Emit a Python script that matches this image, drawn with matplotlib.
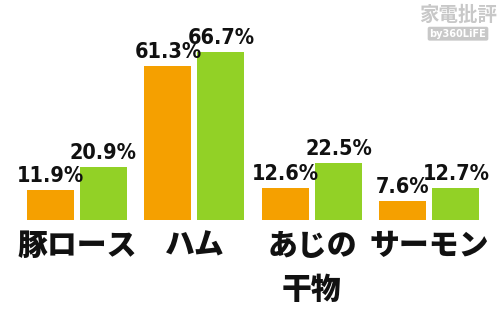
import matplotlib
matplotlib.use("Agg")
import matplotlib.pyplot as plt
import numpy as np

categories = ["豚ロース", "ハム", "あじの\n干物", "サーモン"]
series_a = [11.9, 61.3, 12.6, 7.6]   # orange
series_b = [20.9, 66.7, 22.5, 12.7]  # green
labels_a = ["11.9%", "61.3%", "12.6%", "7.6%"]
labels_b = ["20.9%", "66.7%", "22.5%", "12.7%"]

ORANGE = "#f5a000"
GREEN = "#92d126"

fig = plt.figure(figsize=(5.0, 3.12), dpi=100)
ax = fig.add_axes([0, 0.295, 1, 0.705])
x = np.arange(len(categories))
w = 0.40
off = 0.2255
ax.bar(x - off, series_a, w, color=ORANGE)
ax.bar(x + off, series_b, w, color=GREEN)
ax.set_xlim(-0.655, 3.6)
ax.set_ylim(0, 87.6)

numfont = dict(family="DejaVu Sans", stretch="condensed", weight="bold", size=15.5)
for xi, v, t in zip(x - off, series_a, labels_a):
    ax.text(xi, v + 1.6, t, ha="center", va="bottom", color="#111111", **numfont)
for xi, v, t in zip(x + off, series_b, labels_b):
    ax.text(xi, v + 1.6, t, ha="center", va="bottom", color="#111111", **numfont)

ax.set_xticks(x)
ax.set_xticklabels(categories, fontfamily=["Noto Sans CJK JP", "DejaVu Sans"],
                   fontweight="black", fontsize=21.5, color="#111111", linespacing=1.55)
ax.tick_params(axis="x", length=0, pad=7)
ax.set_yticks([])
for s in ax.spines.values():
    s.set_visible(False)

# watermark
fig.text(0.916, 0.952, "家電批評", ha="center", va="center", color="#c8c8c8",
         fontsize=14, fontweight="bold", fontfamily=["Noto Sans CJK JP", "DejaVu Sans"])
fig.text(0.916, 0.892, "by360LiFE", ha="center", va="center", color="white",
         fontsize=7, fontweight="bold",
         bbox=dict(boxstyle="round,pad=0.2", fc="#c8c8c8", ec="none"))

fig.savefig("out.png", dpi=100)
